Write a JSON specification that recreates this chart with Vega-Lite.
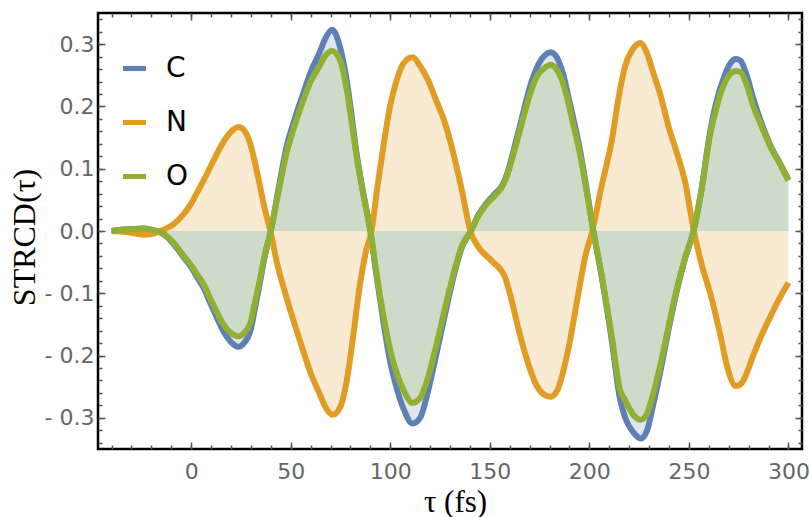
{
  "$schema": "https://vega.github.io/schema/vega-lite/v6.json",
  "width": 704,
  "height": 436,
  "autosize": "none",
  "padding": {"left": 98, "top": 13, "right": 7, "bottom": 68},
  "background": "white",
  "datasets": {
    "curves": [
      {"s":"C","t":-40,"v":0},{"s":"C","t":-35,"v":0.002},{"s":"C","t":-30,"v":0.003},{"s":"C","t":-24,"v":0.004},{"s":"C","t":-20,"v":0.002},{"s":"C","t":-15.5,"v":-0.002},{"s":"C","t":-12,"v":-0.01},{"s":"C","t":-8.8,"v":-0.021},{"s":"C","t":-3.8,"v":-0.042},{"s":"C","t":0,"v":-0.058},{"s":"C","t":3,"v":-0.074},{"s":"C","t":6.2,"v":-0.091},{"s":"C","t":9.5,"v":-0.115},{"s":"C","t":12.9,"v":-0.139},{"s":"C","t":16,"v":-0.16},{"s":"C","t":19.6,"v":-0.177},{"s":"C","t":23.8,"v":-0.186},{"s":"C","t":26.5,"v":-0.18},{"s":"C","t":29.7,"v":-0.161},{"s":"C","t":32,"v":-0.125},{"s":"C","t":34.7,"v":-0.08},{"s":"C","t":37,"v":-0.04},{"s":"C","t":40,"v":0},{"s":"C","t":44,"v":0.07},{"s":"C","t":47.9,"v":0.135},{"s":"C","t":52,"v":0.18},{"s":"C","t":56.3,"v":0.221},{"s":"C","t":60,"v":0.255},{"s":"C","t":64.7,"v":0.288},{"s":"C","t":67.5,"v":0.31},{"s":"C","t":70.8,"v":0.323},{"s":"C","t":74.7,"v":0.296},{"s":"C","t":78.1,"v":0.242},{"s":"C","t":80.6,"v":0.185},{"s":"C","t":83.1,"v":0.124},{"s":"C","t":86.5,"v":0.06},{"s":"C","t":90,"v":0},{"s":"C","t":93,"v":-0.07},{"s":"C","t":96.5,"v":-0.145},{"s":"C","t":99.9,"v":-0.209},{"s":"C","t":103.2,"v":-0.252},{"s":"C","t":106.6,"v":-0.285},{"s":"C","t":111.2,"v":-0.309},{"s":"C","t":115,"v":-0.3},{"s":"C","t":119,"v":-0.257},{"s":"C","t":123,"v":-0.2},{"s":"C","t":127.5,"v":-0.134},{"s":"C","t":132.5,"v":-0.064},{"s":"C","t":136,"v":-0.026},{"s":"C","t":140.5,"v":0},{"s":"C","t":144.3,"v":0.026},{"s":"C","t":148.4,"v":0.045},{"s":"C","t":152.6,"v":0.06},{"s":"C","t":156,"v":0.072},{"s":"C","t":159,"v":0.095},{"s":"C","t":162,"v":0.13},{"s":"C","t":166,"v":0.18},{"s":"C","t":170,"v":0.23},{"s":"C","t":174,"v":0.265},{"s":"C","t":178,"v":0.283},{"s":"C","t":180.5,"v":0.287},{"s":"C","t":183,"v":0.282},{"s":"C","t":187,"v":0.25},{"s":"C","t":189.5,"v":0.215},{"s":"C","t":192,"v":0.18},{"s":"C","t":195,"v":0.135},{"s":"C","t":198.5,"v":0.07},{"s":"C","t":202,"v":0},{"s":"C","t":206,"v":-0.07},{"s":"C","t":211.3,"v":-0.177},{"s":"C","t":215.4,"v":-0.27},{"s":"C","t":218,"v":-0.3},{"s":"C","t":222,"v":-0.323},{"s":"C","t":225.8,"v":-0.333},{"s":"C","t":229,"v":-0.32},{"s":"C","t":232,"v":-0.28},{"s":"C","t":236,"v":-0.22},{"s":"C","t":240,"v":-0.155},{"s":"C","t":244,"v":-0.095},{"s":"C","t":248,"v":-0.045},{"s":"C","t":252.3,"v":0},{"s":"C","t":256,"v":0.06},{"s":"C","t":260.7,"v":0.16},{"s":"C","t":264,"v":0.21},{"s":"C","t":268,"v":0.25},{"s":"C","t":271,"v":0.27},{"s":"C","t":273.5,"v":0.276},{"s":"C","t":276,"v":0.273},{"s":"C","t":279,"v":0.25},{"s":"C","t":282.4,"v":0.212},{"s":"C","t":286,"v":0.177},{"s":"C","t":291,"v":0.137},{"s":"C","t":296,"v":0.107},{"s":"C","t":300,"v":0.082},
      {"s":"N","t":-40,"v":0},{"s":"N","t":-35,"v":-0.001},{"s":"N","t":-30,"v":-0.003},{"s":"N","t":-24,"v":-0.006},{"s":"N","t":-20,"v":-0.005},{"s":"N","t":-15.5,"v":0},{"s":"N","t":-12,"v":0.005},{"s":"N","t":-8.8,"v":0.011},{"s":"N","t":-3.8,"v":0.027},{"s":"N","t":0,"v":0.044},{"s":"N","t":3,"v":0.062},{"s":"N","t":6.2,"v":0.081},{"s":"N","t":9.5,"v":0.102},{"s":"N","t":12.9,"v":0.124},{"s":"N","t":16,"v":0.142},{"s":"N","t":19.6,"v":0.158},{"s":"N","t":23.8,"v":0.167},{"s":"N","t":26.5,"v":0.162},{"s":"N","t":29.7,"v":0.14},{"s":"N","t":32,"v":0.11},{"s":"N","t":34.7,"v":0.07},{"s":"N","t":37,"v":0.035},{"s":"N","t":39.8,"v":0},{"s":"N","t":43,"v":-0.05},{"s":"N","t":47.9,"v":-0.107},{"s":"N","t":52,"v":-0.15},{"s":"N","t":56.3,"v":-0.193},{"s":"N","t":60,"v":-0.228},{"s":"N","t":64.7,"v":-0.263},{"s":"N","t":67.5,"v":-0.283},{"s":"N","t":71,"v":-0.295},{"s":"N","t":74.7,"v":-0.284},{"s":"N","t":78.1,"v":-0.241},{"s":"N","t":81.5,"v":-0.166},{"s":"N","t":84.8,"v":-0.085},{"s":"N","t":88,"v":-0.03},{"s":"N","t":90.6,"v":0},{"s":"N","t":93.5,"v":0.07},{"s":"N","t":96.5,"v":0.135},{"s":"N","t":99.9,"v":0.2},{"s":"N","t":103.2,"v":0.242},{"s":"N","t":106.6,"v":0.269},{"s":"N","t":111.2,"v":0.279},{"s":"N","t":115,"v":0.265},{"s":"N","t":119,"v":0.242},{"s":"N","t":123,"v":0.21},{"s":"N","t":127.5,"v":0.173},{"s":"N","t":132.5,"v":0.114},{"s":"N","t":136,"v":0.065},{"s":"N","t":140.2,"v":0},{"s":"N","t":144.3,"v":-0.026},{"s":"N","t":151,"v":-0.048},{"s":"N","t":157.6,"v":-0.074},{"s":"N","t":161,"v":-0.112},{"s":"N","t":165,"v":-0.165},{"s":"N","t":169.4,"v":-0.214},{"s":"N","t":173,"v":-0.245},{"s":"N","t":177,"v":-0.262},{"s":"N","t":180.5,"v":-0.266},{"s":"N","t":184,"v":-0.255},{"s":"N","t":189.4,"v":-0.19},{"s":"N","t":194.5,"v":-0.1},{"s":"N","t":198,"v":-0.04},{"s":"N","t":201.5,"v":0},{"s":"N","t":206,"v":0.07},{"s":"N","t":211.3,"v":0.146},{"s":"N","t":215,"v":0.22},{"s":"N","t":218,"v":0.265},{"s":"N","t":222,"v":0.293},{"s":"N","t":225.6,"v":0.302},{"s":"N","t":229,"v":0.285},{"s":"N","t":232,"v":0.255},{"s":"N","t":236,"v":0.215},{"s":"N","t":240,"v":0.165},{"s":"N","t":244,"v":0.125},{"s":"N","t":248,"v":0.08},{"s":"N","t":252.5,"v":0},{"s":"N","t":256.5,"v":-0.055},{"s":"N","t":260.7,"v":-0.1},{"s":"N","t":265.7,"v":-0.166},{"s":"N","t":269,"v":-0.215},{"s":"N","t":273.6,"v":-0.249},{"s":"N","t":276,"v":-0.246},{"s":"N","t":278,"v":-0.236},{"s":"N","t":280,"v":-0.22},{"s":"N","t":282.4,"v":-0.199},{"s":"N","t":286,"v":-0.171},{"s":"N","t":290.8,"v":-0.138},{"s":"N","t":295,"v":-0.111},{"s":"N","t":300,"v":-0.083},
      {"s":"O","t":-40,"v":0},{"s":"O","t":-35,"v":0.002},{"s":"O","t":-30,"v":0.003},{"s":"O","t":-24,"v":0.004},{"s":"O","t":-20,"v":0.002},{"s":"O","t":-15.5,"v":-0.002},{"s":"O","t":-12,"v":-0.009},{"s":"O","t":-8.8,"v":-0.019},{"s":"O","t":-3.8,"v":-0.04},{"s":"O","t":0,"v":-0.055},{"s":"O","t":3,"v":-0.07},{"s":"O","t":6.2,"v":-0.085},{"s":"O","t":9.5,"v":-0.108},{"s":"O","t":12.9,"v":-0.13},{"s":"O","t":16,"v":-0.149},{"s":"O","t":19.6,"v":-0.163},{"s":"O","t":23.8,"v":-0.169},{"s":"O","t":26.5,"v":-0.164},{"s":"O","t":29.7,"v":-0.148},{"s":"O","t":32,"v":-0.115},{"s":"O","t":34.7,"v":-0.075},{"s":"O","t":37,"v":-0.038},{"s":"O","t":40,"v":0},{"s":"O","t":44,"v":0.065},{"s":"O","t":47.9,"v":0.125},{"s":"O","t":52,"v":0.17},{"s":"O","t":56.3,"v":0.21},{"s":"O","t":60,"v":0.24},{"s":"O","t":64.7,"v":0.266},{"s":"O","t":67.5,"v":0.282},{"s":"O","t":70.8,"v":0.289},{"s":"O","t":74.7,"v":0.275},{"s":"O","t":78.1,"v":0.228},{"s":"O","t":80.6,"v":0.175},{"s":"O","t":83.1,"v":0.12},{"s":"O","t":86.5,"v":0.058},{"s":"O","t":90,"v":0},{"s":"O","t":93,"v":-0.066},{"s":"O","t":96.5,"v":-0.135},{"s":"O","t":99.9,"v":-0.19},{"s":"O","t":103.2,"v":-0.228},{"s":"O","t":106.6,"v":-0.255},{"s":"O","t":111.2,"v":-0.276},{"s":"O","t":115,"v":-0.268},{"s":"O","t":119,"v":-0.235},{"s":"O","t":123,"v":-0.185},{"s":"O","t":127.5,"v":-0.124},{"s":"O","t":132.5,"v":-0.06},{"s":"O","t":136,"v":-0.024},{"s":"O","t":140.5,"v":0},{"s":"O","t":144.3,"v":0.024},{"s":"O","t":148.4,"v":0.043},{"s":"O","t":152.6,"v":0.057},{"s":"O","t":156,"v":0.07},{"s":"O","t":159,"v":0.092},{"s":"O","t":162,"v":0.125},{"s":"O","t":166,"v":0.172},{"s":"O","t":170,"v":0.218},{"s":"O","t":174,"v":0.25},{"s":"O","t":178,"v":0.263},{"s":"O","t":180.5,"v":0.267},{"s":"O","t":183,"v":0.262},{"s":"O","t":187,"v":0.235},{"s":"O","t":189.5,"v":0.205},{"s":"O","t":192,"v":0.17},{"s":"O","t":195,"v":0.128},{"s":"O","t":198.5,"v":0.066},{"s":"O","t":202,"v":0},{"s":"O","t":206,"v":-0.068},{"s":"O","t":211.3,"v":-0.17},{"s":"O","t":215.4,"v":-0.255},{"s":"O","t":218,"v":-0.272},{"s":"O","t":222,"v":-0.295},{"s":"O","t":225.8,"v":-0.303},{"s":"O","t":229,"v":-0.293},{"s":"O","t":232,"v":-0.262},{"s":"O","t":236,"v":-0.21},{"s":"O","t":240,"v":-0.15},{"s":"O","t":244,"v":-0.092},{"s":"O","t":248,"v":-0.044},{"s":"O","t":252.3,"v":0},{"s":"O","t":256,"v":0.06},{"s":"O","t":260.7,"v":0.155},{"s":"O","t":264,"v":0.2},{"s":"O","t":268,"v":0.238},{"s":"O","t":271,"v":0.253},{"s":"O","t":273.5,"v":0.257},{"s":"O","t":276,"v":0.255},{"s":"O","t":279,"v":0.235},{"s":"O","t":282.4,"v":0.2},{"s":"O","t":286,"v":0.172},{"s":"O","t":291,"v":0.135},{"s":"O","t":296,"v":0.106},{"s":"O","t":300,"v":0.081}
    ]
  },
  "resolve": {"axis": {"x": "independent", "y": "independent"}},
  "layer": [
    {
      "data": {"name": "curves"},
      "mark": {"type": "area", "opacity": 0.2, "interpolate": "monotone"},
      "encoding": {
        "x": {"field": "t", "type": "quantitative",
              "scale": {"domain": [-46.8, 306.8], "nice": false, "zero": false},
              "axis": {"orient": "bottom", "values": [0, 50, 100, 150, 200, 250, 300], "tickSize": -7,
                       "labelPadding": 36.5, "labelBaseline": "alphabetic", "labelFlush": false, "labelOverlap": false,
                       "title": "τ  (fs)", "titleFontSize": 31, "titleX": 357, "titleY": 62, "titleAlign": "center", "titleBaseline": "alphabetic", "titleAngle": 0}},
        "y": {"field": "v", "type": "quantitative", "stack": null,
              "scale": {"domain": [-0.35, 0.35], "nice": false, "zero": false},
              "axis": {"orient": "left", "values": [-0.3, -0.2, -0.1, 0, 0.1, 0.2, 0.3], "tickSize": -7,
                       "labelPadding": 11, "labelOverlap": false, "labelFlush": false,
                       "labelExpr": "datum.value < 0 ? '- ' + format(-datum.value, '.1f') : format(datum.value, '.1f')",
                       "title": "STRCD(τ)", "titleX": -64, "titleY": 224, "titleAngle": -90, "titleAlign": "center", "titleBaseline": "alphabetic"}},
        "y2": {"datum": 0},
        "fill": {"field": "s", "type": "nominal",
                 "scale": {"range": ["#5E81B5", "#E19C24", "#8FB032"]},
                 "legend": null}
      }
    },
    {
      "data": {"name": "curves"},
      "mark": {"type": "line", "strokeWidth": 6, "interpolate": "monotone", "strokeJoin": "round"},
      "encoding": {
        "x": {"field": "t", "type": "quantitative",
              "scale": {"domain": [-46.8, 306.8], "nice": false, "zero": false},
              "axis": {"orient": "bottom", "values": [-40, -30, -20, -10, 0, 10, 20, 30, 40, 50, 60, 70, 80, 90, 100, 110, 120, 130, 140, 150, 160, 170, 180, 190, 200, 210, 220, 230, 240, 250, 260, 270, 280, 290, 300],
                       "tickSize": -4, "labels": false, "title": null}},
        "y": {"field": "v", "type": "quantitative",
              "scale": {"domain": [-0.35, 0.35], "nice": false, "zero": false},
              "axis": {"orient": "left", "values": [-0.34, -0.32, -0.3, -0.28, -0.26, -0.24, -0.22, -0.2, -0.18, -0.16, -0.14, -0.12, -0.1, -0.08, -0.06, -0.04, -0.02, 0, 0.02, 0.04, 0.06, 0.08, 0.1, 0.12, 0.14, 0.16, 0.18, 0.2, 0.22, 0.24, 0.26, 0.28, 0.3, 0.32, 0.34],
                       "tickSize": -4, "labels": false, "title": null}},
        "color": {"field": "s", "type": "nominal",
                  "scale": {"domain": ["C", "N", "O"], "range": ["#5E81B5", "#E19C24", "#8FB032"]},
                  "legend": {"orient": "none", "legendX": 22, "legendY": 41, "title": null,
                             "symbolType": "stroke", "symbolSize": 530, "symbolStrokeWidth": 5,
                             "labelFont": "DejaVu Sans", "labelFontSize": 28, "labelColor": "black",
                             "labelOffset": 17, "rowPadding": 25}}
      }
    },
    {
      "mark": {"type": "rule", "color": "#8a8a8a", "strokeWidth": 1.5},
      "encoding": {
        "x": {"datum": 0, "type": "quantitative",
              "scale": {"domain": [-46.8, 306.8], "nice": false, "zero": false},
              "axis": {"orient": "top", "values": [0, 50, 100, 150, 200, 250, 300], "tickSize": -7, "labels": false, "title": null}},
        "y": {"datum": -0.35, "type": "quantitative",
              "scale": {"domain": [-0.35, 0.35], "nice": false, "zero": false},
              "axis": {"orient": "right", "values": [-0.3, -0.2, -0.1, 0, 0.1, 0.2, 0.3], "tickSize": -7, "labels": false, "title": null}},
        "y2": {"datum": 0.35}
      }
    },
    {
      "mark": {"type": "rule", "color": "#8a8a8a", "strokeWidth": 1.5},
      "encoding": {
        "y": {"datum": 0, "type": "quantitative",
              "scale": {"domain": [-0.35, 0.35], "nice": false, "zero": false},
              "axis": {"orient": "right", "values": [-0.34, -0.32, -0.3, -0.28, -0.26, -0.24, -0.22, -0.2, -0.18, -0.16, -0.14, -0.12, -0.1, -0.08, -0.06, -0.04, -0.02, 0, 0.02, 0.04, 0.06, 0.08, 0.1, 0.12, 0.14, 0.16, 0.18, 0.2, 0.22, 0.24, 0.26, 0.28, 0.3, 0.32, 0.34],
                       "tickSize": -4, "labels": false, "title": null}},
        "x": {"datum": -46.8, "type": "quantitative",
              "scale": {"domain": [-46.8, 306.8], "nice": false, "zero": false},
              "axis": {"orient": "top", "values": [-40, -30, -20, -10, 0, 10, 20, 30, 40, 50, 60, 70, 80, 90, 100, 110, 120, 130, 140, 150, 160, 170, 180, 190, 200, 210, 220, 230, 240, 250, 260, 270, 280, 290, 300],
                       "tickSize": -4, "labels": false, "title": null}},
        "x2": {"datum": 306.8}
      }
    }
  ],
  "config": {
    "view": {"stroke": "black", "strokeWidth": 2.5},
    "axis": {
      "grid": false, "domain": false,
      "tickColor": "#555555", "tickWidth": 1.5,
      "labelFont": "DejaVu Sans", "labelFontSize": 22, "labelColor": "#666666",
      "titleFont": "Liberation Serif", "titleFontSize": 32, "titleFontWeight": "normal", "titleColor": "black"
    }
  }
}
